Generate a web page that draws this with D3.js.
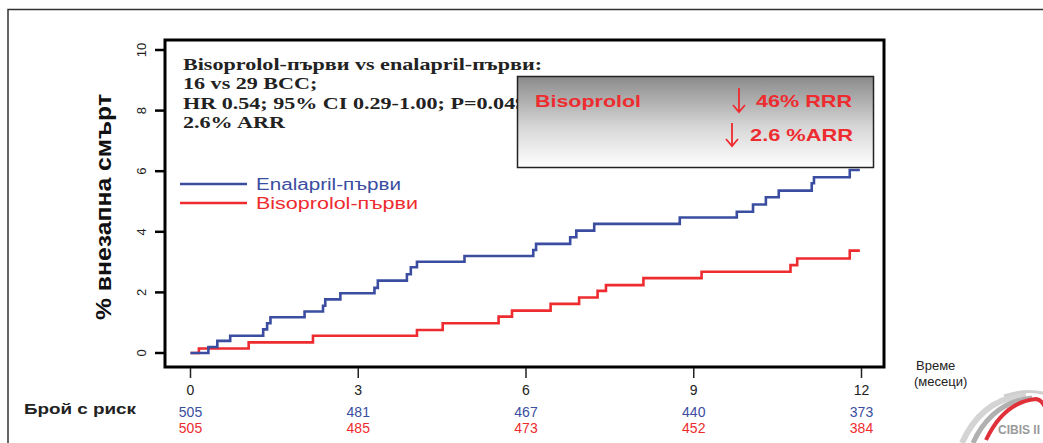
<!DOCTYPE html>
<html>
<head>
<meta charset="utf-8">
<script src="https://cdn.jsdelivr.net/npm/d3@7"></script>
<style>
  body { margin: 0; background: #fff; }
  svg text { font-family: "Liberation Sans", Arial, sans-serif; }
  svg text.serif { font-family: "Liberation Serif", "Times New Roman", serif; }
</style>
</head>
<body>
<div id="chart"></div>
<script>
// Chart data
var monthTicks = [0, 3, 6, 9, 12];
var yTicks = [0, 2, 4, 6, 8, 10];

// Enalapril-first: event times (months) and cumulative % after each event
var enalTimes = [0, 0.32, 0.48, 0.71, 1.30, 1.37, 1.43, 2.04, 2.37, 2.41, 2.68, 3.29, 3.35, 3.87, 3.94, 4.05, 4.90,
                 6.13, 6.18, 6.79, 6.90, 7.22, 8.75, 9.77, 10.06, 10.29, 10.52, 11.11, 11.15, 11.79, 11.97];
var enalValues = [0, 0.20, 0.40, 0.57, 0.78, 0.98, 1.18, 1.37, 1.56, 1.77, 1.97, 2.15, 2.39, 2.60, 2.83, 3.01, 3.20,
                  3.40, 3.60, 3.82, 4.04, 4.26, 4.47, 4.66, 4.90, 5.14, 5.36, 5.60, 5.80, 6.04, 6.04];

// Bisoprolol-first
var bisoTimes = [0, 0.15, 1.04, 2.19, 4.05, 4.51, 5.51, 5.75, 6.44, 6.95, 7.28, 7.43, 8.10, 9.14, 10.73, 10.85, 11.79, 11.97];
var bisoValues = [0, 0.15, 0.35, 0.57, 0.76, 0.98, 1.20, 1.40, 1.62, 1.83, 2.05, 2.24, 2.47, 2.68, 2.90, 3.12, 3.38, 3.38];

var enalAtRisk = [505, 481, 467, 440, 373];
var bisoAtRisk = [505, 485, 473, 452, 384];

var annotationLines = [
    "Bisoprolol-първи vs enalapril-първи:",
    "16 vs 29 ВСС;",
    "HR 0.54; 95% CI 0.29-1.00; P=0.049",
    "2.6% ARR"
];

var blue = "#3a4da0";
var red = "#ee2b2f";

var width = 1043;
var height = 443;

var svg = d3.select("#chart")
    .append("svg")
    .attr("width", width)
    .attr("height", height);

// outer slide border
svg.append("path")
    .attr("d", "M8,443 V9.5 H1043")
    .attr("fill", "none")
    .attr("stroke", "#333")
    .attr("stroke-width", 1.5);

/* ****** Scales ****** */
var x = d3.scaleLinear().domain([0, 12]).range([190.5, 861.5]);
var y = d3.scaleLinear().domain([0, 10]).range([353, 50]);

/* ****** Plot frame ****** */
svg.append("rect")
    .attr("x", 165)
    .attr("y", 40)
    .attr("width", 719)
    .attr("height", 327)
    .attr("fill", "none")
    .attr("stroke", "#000")
    .attr("stroke-width", 3);

// y axis ticks
var yAxis = svg.append("g");
yAxis.selectAll("line")
    .data(yTicks)
    .enter()
    .append("line")
    .attr("x1", 155).attr("x2", 165)
    .attr("y1", function(d) { return y(d); })
    .attr("y2", function(d) { return y(d); })
    .attr("stroke", "#000")
    .attr("stroke-width", 2.5);
yAxis.selectAll("text")
    .data(yTicks)
    .enter()
    .append("text")
    .attr("transform", function(d) { return "translate(146," + y(d) + ") rotate(-90)"; })
    .attr("text-anchor", "middle")
    .attr("font-size", 13)
    .attr("fill", "#222")
    .text(function(d) { return d; });

// x axis ticks
var xAxis = svg.append("g");
xAxis.selectAll("line")
    .data(monthTicks)
    .enter()
    .append("line")
    .attr("x1", function(d) { return x(d); })
    .attr("x2", function(d) { return x(d); })
    .attr("y1", 368).attr("y2", 378)
    .attr("stroke", "#222")
    .attr("stroke-width", 1.5);
xAxis.selectAll("text")
    .data(monthTicks)
    .enter()
    .append("text")
    .attr("x", function(d) { return x(d); })
    .attr("y", 395)
    .attr("text-anchor", "middle")
    .attr("font-size", 14)
    .attr("fill", "#222")
    .text(function(d) { return d; });

// y axis title
svg.append("text")
    .attr("transform", "translate(111,207) rotate(-90)")
    .attr("text-anchor", "middle")
    .attr("font-size", 22)
    .attr("font-weight", "bold")
    .attr("textLength", 226)
    .attr("lengthAdjust", "spacingAndGlyphs")
    .attr("fill", "#111")
    .text("% внезапна смърт");

/* ****** Step curves ****** */
var line = d3.line()
    .x(function(d) { return x(d[0]); })
    .y(function(d) { return y(d[1]); })
    .curve(d3.curveStepAfter);

var series = [
    { times: bisoTimes, values: bisoValues, color: red },
    { times: enalTimes, values: enalValues, color: blue }
];

svg.selectAll(".curve")
    .data(series)
    .enter()
    .append("path")
    .attr("class", "curve")
    .attr("fill", "none")
    .attr("stroke", function(d) { return d.color; })
    .attr("stroke-width", 2.6)
    .attr("d", function(d) {
        return line(d3.zip(d.times, d.values));
    });

/* ****** Annotation (stretched serif, like the slide) ****** */
svg.append("g")
    .attr("transform", "translate(183,0) scale(1.3,1)")
    .selectAll(".annot")
    .data(annotationLines)
    .enter()
    .append("text")
    .attr("class", "annot serif")
    .attr("x", 0)
    .attr("y", function(d, i) { return 70 + i * 19.5; })
    .attr("font-size", 17)
    .attr("font-weight", "bold")
    .attr("fill", "#222")
    .text(function(d) { return d; });

/* ****** Gradient box ****** */
var defs = svg.append("defs");
var grad = defs.append("linearGradient")
    .attr("id", "boxGrad")
    .attr("x1", 0).attr("y1", 0).attr("x2", 0).attr("y2", 1);
grad.append("stop").attr("offset", "0%").attr("stop-color", "#8a8a8a");
grad.append("stop").attr("offset", "55%").attr("stop-color", "#d6d6d6");
grad.append("stop").attr("offset", "100%").attr("stop-color", "#ffffff");

svg.append("rect")
    .attr("x", 517.5)
    .attr("y", 76.5)
    .attr("width", 356)
    .attr("height", 91)
    .attr("fill", "url(#boxGrad)")
    .attr("stroke", "#222")
    .attr("stroke-width", 1.5);

var boxText = [
    { text: "Bisoprolol", x: 535, y: 107, len: 106 },
    { text: "46% RRR", x: 756, y: 107, len: 96 },
    { text: "2.6 %ARR", x: 750, y: 141, len: 103 }
];
svg.selectAll(".boxtext")
    .data(boxText)
    .enter()
    .append("text")
    .attr("class", "boxtext")
    .attr("x", function(d) { return d.x; })
    .attr("y", function(d) { return d.y; })
    .attr("font-size", 17)
    .attr("font-weight", "bold")
    .attr("textLength", function(d) { return d.len; })
    .attr("lengthAdjust", "spacingAndGlyphs")
    .attr("fill", red)
    .text(function(d) { return d.text; });

// down arrows
[[739, 88, 112], [732, 123, 146]].forEach(function(a) {
    svg.append("path")
        .attr("d", "M" + a[0] + "," + a[1] + " V" + a[2] +
                   " M" + (a[0] - 6) + "," + (a[2] - 7) + " L" + a[0] + "," + a[2] + " L" + (a[0] + 6) + "," + (a[2] - 7))
        .attr("fill", "none")
        .attr("stroke", red)
        .attr("stroke-width", 1.8);
});

/* ****** Legend ****** */
var legendItems = [
    { label: "Enalapril-първи", color: blue, len: 145 },
    { label: "Bisoprolol-първи", color: red, len: 162 }
];
var legend = svg.selectAll(".legend")
    .data(legendItems)
    .enter()
    .append("g")
    .attr("class", "legend")
    .attr("transform", function(d, i) { return "translate(0," + (184 + i * 19) + ")"; });
legend.append("line")
    .attr("x1", 180).attr("x2", 247)
    .attr("stroke", function(d) { return d.color; })
    .attr("stroke-width", 2.6);
legend.append("text")
    .attr("x", 256)
    .attr("y", 5.5)
    .attr("font-size", 16)
    .attr("textLength", function(d) { return d.len; })
    .attr("lengthAdjust", "spacingAndGlyphs")
    .attr("fill", function(d) { return d.color; })
    .text(function(d) { return d.label; });

/* ****** Number at risk ****** */
svg.append("text")
    .attr("x", 24)
    .attr("y", 414)
    .attr("font-size", 14)
    .attr("font-weight", "bold")
    .attr("textLength", 112)
    .attr("lengthAdjust", "spacingAndGlyphs")
    .attr("fill", "#222")
    .text("Брой с риск");

var riskRows = [
    { values: enalAtRisk, color: blue, y: 417 },
    { values: bisoAtRisk, color: red, y: 433 }
];
riskRows.forEach(function(row) {
    svg.append("g").selectAll("text")
        .data(row.values)
        .enter()
        .append("text")
        .attr("x", function(d, i) { return x(monthTicks[i]); })
        .attr("y", row.y)
        .attr("text-anchor", "middle")
        .attr("font-size", 14)
        .attr("fill", row.color)
        .text(function(d) { return d; });
});

// time label
svg.append("text")
    .attr("x", 916)
    .attr("y", 370)
    .attr("font-size", 13)
    .attr("fill", "#222")
    .text("Време");
svg.append("text")
    .attr("x", 914)
    .attr("y", 386)
    .attr("font-size", 13)
    .attr("fill", "#222")
    .text("(месеци)");

/* ****** CIBIS II logo ****** */
var logo = svg.append("g");
logo.append("path")
    .attr("d", "M962,443 Q982,398 1026,395")
    .attr("fill", "none").attr("stroke", "#d4d4d4").attr("stroke-width", 6);
logo.append("path")
    .attr("d", "M973,443 Q992,402 1032,398")
    .attr("fill", "none").attr("stroke", "#b0b0b0").attr("stroke-width", 5);
logo.append("path")
    .attr("d", "M986,440 Q1004,402 1036,399 Q1043,400 1046,410")
    .attr("fill", "none").attr("stroke", "#e0303a").attr("stroke-width", 4);
logo.append("path")
    .attr("d", "M1004,396 Q1028,388 1046,394")
    .attr("fill", "none").attr("stroke", "#cfcfcf").attr("stroke-width", 3);
logo.append("text")
    .attr("x", 998)
    .attr("y", 434)
    .attr("font-size", 12)
    .attr("font-weight", "bold")
    .attr("fill", "#9a9a9a")
    .text("CIBIS II");
</script>
</body>
</html>
